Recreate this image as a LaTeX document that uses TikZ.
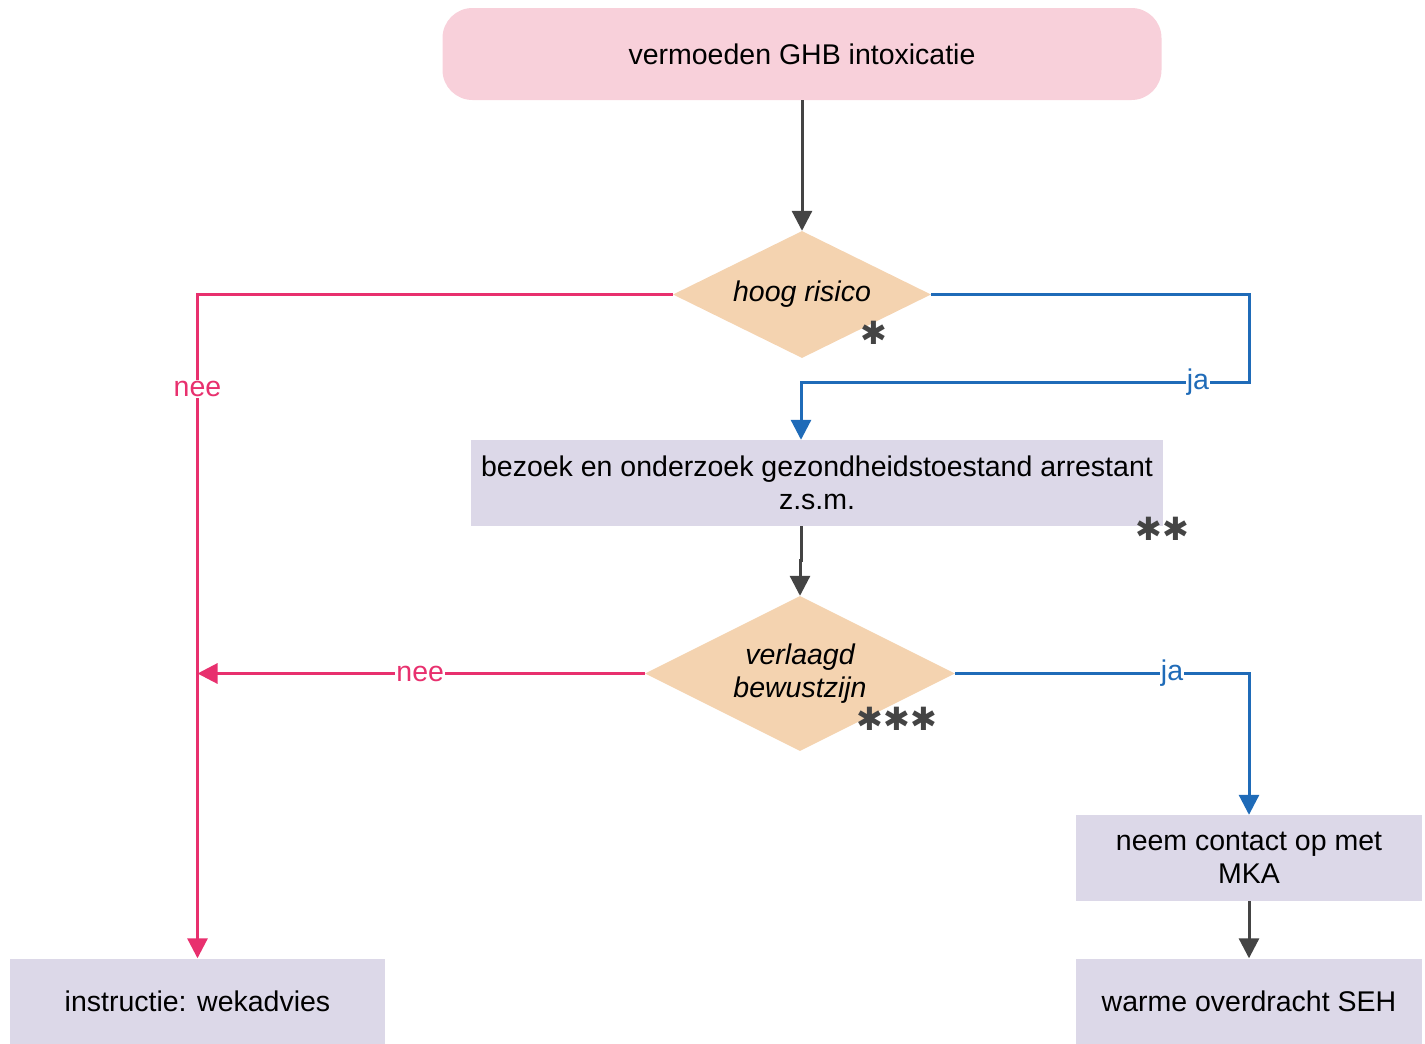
\documentclass[tikz,border=0pt]{standalone}
\usepackage{fontspec}
\setmainfont{Liberation Sans}
\newfontfamily\symfont{DejaVu Sans}
\usetikzlibrary{arrows.meta,shapes.geometric}
\definecolor{startpink}{HTML}{F8D0DA}
\definecolor{decisionorange}{HTML}{F4D3B0}
\definecolor{steplilac}{HTML}{DCD8E8}
\definecolor{neepink}{HTML}{E8306E}
\definecolor{jablue}{HTML}{1F6BB8}
\definecolor{flowgray}{HTML}{444444}

\begin{document}
\begin{tikzpicture}[x=1pt,y=-1pt,
	every node/.style={font=\fontsize{28.5}{33}\selectfont},
	start/.style={rectangle,rounded corners=30pt,fill=startpink,minimum width=719pt,minimum height=92pt},
	decision/.style={diamond,aspect=2,fill=decisionorange,inner sep=0pt,align=center,font=\fontsize{28.5}{33}\selectfont\itshape},
	stepbox/.style={rectangle,fill=steplilac,inner sep=0pt,align=center,minimum height=86pt},
	flow/.style={line width=3pt,draw=flowgray,-{Triangle[length=20pt,width=20pt]}},
	neeflow/.style={flow,draw=neepink},
	jaflow/.style={flow,draw=jablue},
	neelabel/.style={fill=white,text=neepink,inner sep=1pt},
	jalabel/.style={fill=white,text=jablue,inner sep=1pt},
	stars/.style={text=flowgray,inner sep=0pt,font=\fontsize{32}{32}\selectfont\symfont}]
	\useasboundingbox (0,0) rectangle (1425,1044);
	\node [start] (start) at (802, 54) {vermoeden GHB intoxicatie};
	\node [decision,minimum width=258pt,minimum height=127pt] (risk) at (802, 294.5) {hoog risico};
	\node [stars] (riskstar) at (874, 333) {✱};
	\node [stepbox,minimum width=692pt] (visit) at (817, 483) {bezoek en onderzoek gezondheidstoestand arrestant\\z.s.m.};
	\node [stars] (visitstar) at (1162, 529) {✱✱};
	\node [decision,minimum width=310pt,minimum height=155pt] (alert) at (800, 673.5) {verlaagd\\bewustzijn};
	\node [stars] (alertstar) at (897, 719) {✱✱✱};
	\node [stepbox,minimum width=346pt] (mka) at (1249, 858) {neem contact op met\\MKA};
	\node [stepbox,minimum width=346pt] (seh) at (1249, 1001.5) {warme overdracht SEH};
	\node [stepbox,minimum width=375pt] (instr) at (197.5, 1001.5) {instructie: wekadvies};
	\coordinate (neecorner) at (197.5, 294.5);
	\coordinate (jacornerA) at (1249, 294.5);
	\coordinate (jacornerB) at (1249, 382);
	\coordinate (jacornerC) at (801, 382);
	\coordinate (kink) at (801, 560);
	\coordinate (jacornerD) at (1249, 673.5);
	\draw [flow] (start) -- (risk);
	\draw [neeflow] (risk.west) -- (neecorner) -- node [neelabel,pos=0.142] {nee} (instr.north);
	\draw [jaflow] (risk.east) -- (jacornerA) -- (jacornerB) -- node [jalabel,pos=0.114] {ja} (jacornerC) -- (visit.north -| jacornerC);
	\draw [flow] (visit.south -| kink) -- (kink) -| (alert.north);
	\draw [neeflow] (alert.west) -- node [neelabel,pos=0.502] {nee} (alert.west -| neecorner);
	\draw [jaflow] (alert.east) -- node [jalabel,pos=0.738] {ja} (jacornerD) -- (mka.north);
	\draw [flow] (mka) -- (seh);
\end{tikzpicture}
\end{document}
